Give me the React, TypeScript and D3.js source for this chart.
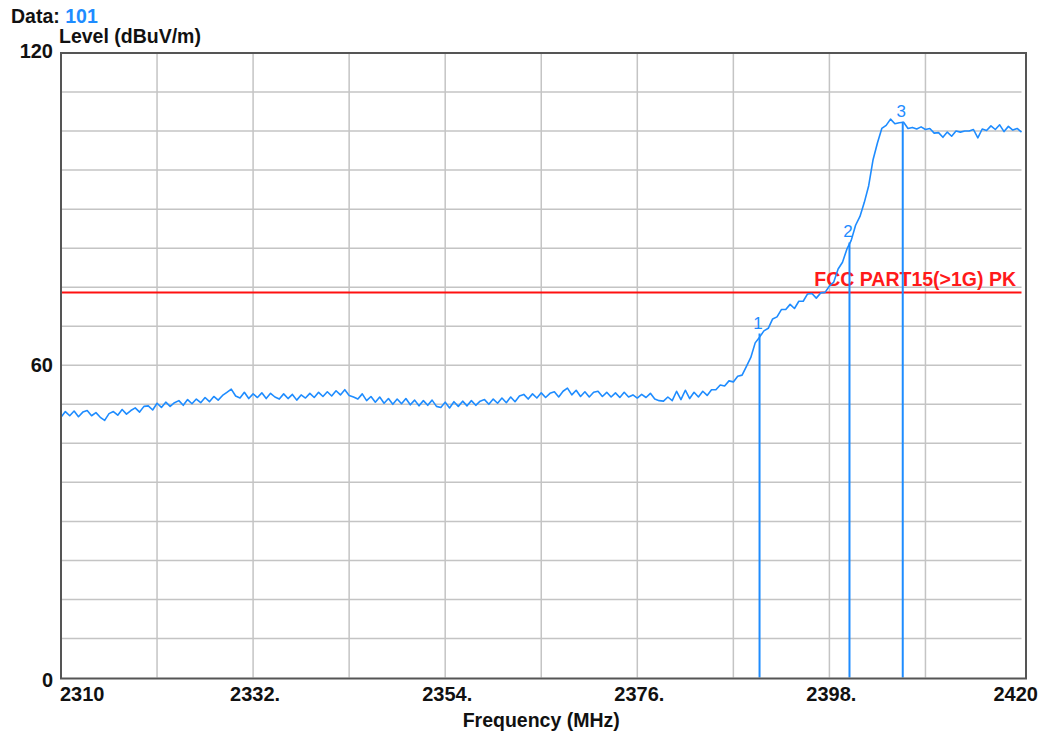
import React from "react";
import * as d3 from "d3";

// ---- data ----
const freqStart = 2310;
const freqEnd = 2420;
const freqStep = 0.5;
const levels: number[] = [
  50.0, 51.1, 50.3, 51.2, 50.1, 51.0, 51.3, 50.3, 50.9, 50.0,
  49.4, 50.7, 51.1, 50.4, 51.5, 50.6, 51.3, 51.8, 51.0, 52.1,
  52.2, 51.4, 52.7, 51.9, 52.9, 52.1, 52.8, 53.2, 52.3, 53.4,
  52.6, 53.5, 52.8, 53.8, 53.0, 54.0, 53.3, 54.2, 54.8, 55.4,
  54.1, 53.7, 54.8, 53.6, 54.5, 53.8, 54.7, 53.6, 54.6, 53.9,
  53.5, 54.5, 53.6, 54.4, 53.3, 54.3, 53.7, 54.6, 53.8, 54.8,
  54.0, 54.9, 54.1, 55.1, 54.3, 55.3, 54.2, 53.9, 53.5, 54.5,
  53.2, 54.0, 52.9, 53.9, 52.7, 53.6, 52.5, 53.5, 52.6, 53.6,
  52.4, 53.3, 52.2, 53.2, 52.3, 53.3, 52.1, 51.9, 52.9, 51.8,
  53.0, 52.1, 53.1, 52.2, 53.2, 52.3, 53.1, 53.4, 52.5, 53.5,
  52.7, 53.7, 52.8, 53.9, 53.0, 54.1, 54.4, 53.5, 54.5, 53.7,
  54.7, 53.8, 54.6, 54.9, 53.9, 55.0, 55.6, 54.3, 55.2, 54.0,
  54.9, 53.9, 54.8, 55.0, 54.0, 54.8, 53.9, 54.7, 53.8, 54.8,
  53.9, 54.3, 53.7, 54.4, 53.8, 54.6, 53.5, 53.2, 53.1, 53.9,
  53.2, 55.0, 53.4, 55.2, 53.6, 54.8, 53.9, 55.0, 54.2, 55.3,
  55.3, 56.2, 56.0, 57.0, 56.8, 57.9, 58.1, 59.8, 61.5, 64.3,
  65.4, 66.6, 67.1, 68.9, 69.3, 70.7, 70.7, 71.7, 70.9, 72.3,
  72.3, 73.7, 73.8, 72.9, 73.9, 74.0, 75.2, 76.0, 78.5, 79.8,
  82.3, 84.0, 86.9, 88.6, 91.3, 94.5, 99.5, 102.7, 105.5, 106.1,
  107.3, 106.4, 106.6, 106.7, 105.5, 105.7, 105.4, 105.8, 105.3, 105.5,
  104.6, 104.7, 103.8, 104.8, 104.0, 105.0, 104.8, 105.0, 105.0, 105.3,
  103.7, 105.4, 105.1, 106.0, 105.3, 106.2, 104.9, 105.9, 105.2, 105.5,
  104.8,
];
const freqs: number[] = levels.map((_, i) => freqStart + i * freqStep);

const markerFreqs = [2390.0, 2400.3, 2406.4];
const markerLevels = [66.1, 83.6, 106.8];
const markerNames = ["1", "2", "3"];

const limitLevel = 74;
const limitLabel = "FCC PART15(>1G) PK";

const xTickValues = [2310, 2332, 2354, 2376, 2398, 2420];
const xTickLabels = ["2310", "2332.", "2354.", "2376.", "2398.", "2420"];
const yTickValues = [0, 60, 120];
const yTickLabels = ["0", "60", "120"];

const dataId = "101";

// ---- layout ----
const W = 1042;
const H = 733;
const left = 61;
const right = 1021.5;
const top = 53;
const bottom = 677.5;
const frameRight = 1026;
const frameBottom = 678.5;

const BLUE = "#1e8cff";
const FONT = "'Liberation Sans', Arial, sans-serif";

export default function App() {
  const x = d3.scaleLinear().domain([freqStart, freqEnd]).range([left, right]);
  const y = d3.scaleLinear().domain([0, 120]).range([bottom, top]);

  const vGrid = d3.range(freqStart + 11, freqEnd, 11);
  const hGrid = d3.range(7.5, 120, 7.5);

  const line = d3
    .line<number>()
    .x((_, i) => x(freqs[i]))
    .y((d) => y(d));

  return (
    <div style={{ position: "absolute", left: 0, top: 0 }}>
      <svg width={W} height={H} style={{ display: "block", background: "#fff" }} fontFamily={FONT}>
        {/* grid */}
        {vGrid.map((f) => (
          <line key={"v" + f} x1={x(f)} x2={x(f)} y1={top} y2={bottom} stroke="#c4c4c4" strokeWidth={1.5} />
        ))}
        {hGrid.map((v) => (
          <line key={"h" + v} x1={left} x2={right} y1={y(v)} y2={y(v)} stroke="#c4c4c4" strokeWidth={1.5} />
        ))}

        {/* limit line */}
        <line x1={left} x2={right} y1={y(limitLevel)} y2={y(limitLevel)} stroke="#ff1010" strokeWidth={2} />
        <text x={1016} y={y(limitLevel) - 6} textAnchor="end" fontSize={19.5} fontWeight="bold" fill="#ff1a1a">
          {limitLabel}
        </text>

        {/* markers */}
        {markerFreqs.map((f, i) => (
          <g key={"m" + i}>
            <line x1={x(f)} x2={x(f)} y1={y(markerLevels[i])} y2={bottom} stroke={BLUE} strokeWidth={2} />
            <text x={x(f) - 1.5} y={y(markerLevels[i]) - 5} textAnchor="middle" fontSize={17} fill={BLUE}>
              {markerNames[i]}
            </text>
          </g>
        ))}

        {/* trace */}
        <path d={line(levels) || ""} fill="none" stroke={BLUE} strokeWidth={1.6} strokeLinejoin="round" />

        {/* frame */}
        <path
          d={`M${left},${top} H${frameRight} V${frameBottom} H${left} Z`}
          fill="none"
          stroke="#555"
          strokeWidth={2}
        />

        {/* y tick labels */}
        {yTickValues.map((v, i) => (
          <text key={"yl" + v} x={53} y={y(v) + (v === 0 ? 9 : v === 120 ? 5 : 7)} textAnchor="end" fontSize={20} fontWeight="bold" fill="#111">
            {yTickLabels[i]}
          </text>
        ))}

        {/* x tick labels */}
        {xTickValues.map((v, i) => {
          const anchor = i === 0 ? "start" : i === xTickValues.length - 1 ? "end" : "middle";
          const xp = i === 0 ? x(v) - 1 : i === xTickValues.length - 1 ? 1038 : x(v) + 2;
          return (
            <text key={"xl" + v} x={xp} y={701} textAnchor={anchor} fontSize={20} fontWeight="bold" fill="#111">
              {xTickLabels[i]}
            </text>
          );
        })}

        {/* titles */}
        <text x={11} y={23} fontSize={19.5} fontWeight="bold" fill="#111">
          Data: <tspan fill={BLUE}>{dataId}</tspan>
        </text>
        <text x={59} y={43} fontSize={19.5} fontWeight="bold" fill="#111">
          Level (dBuV/m)
        </text>
        <text x={(left + right) / 2} y={727} textAnchor="middle" fontSize={19.5} fontWeight="bold" fill="#111">
          Frequency (MHz)
        </text>
      </svg>
    </div>
  );
}
